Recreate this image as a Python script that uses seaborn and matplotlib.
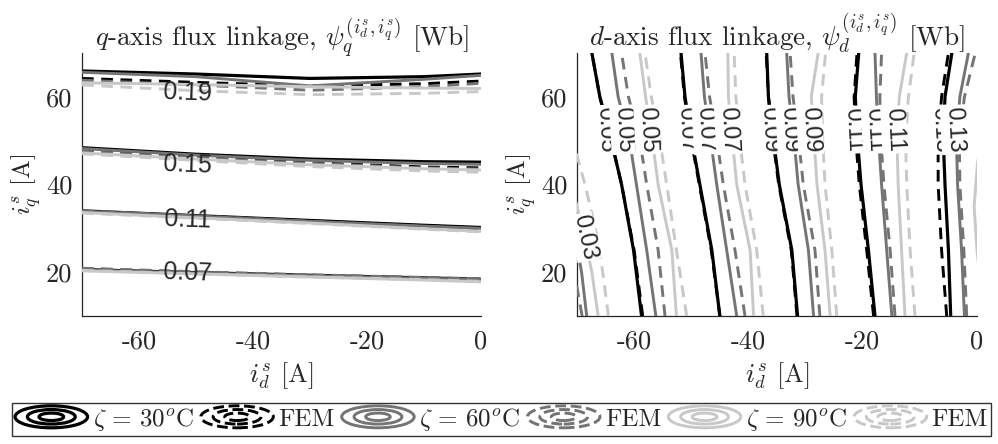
import numpy as np
import matplotlib
matplotlib.use("Agg")
import matplotlib.pyplot as plt
import seaborn as sns
import pandas as pd
from matplotlib.legend_handler import HandlerBase
from matplotlib.patches import Ellipse
from matplotlib.lines import Line2D

# ---------------- data ----------------
# Left panel: q-axis flux linkage contours -> iq [A] at the given id [A]
q_id = [-70, -50, -30, -10, 0]
q_levels = [0.07, 0.11, 0.15, 0.19]
q_30C = {0.19: [65.9, 65.2, 64.2, 64.6, 65.2],
         0.15: [48.4, 46.9, 45.8, 45.2, 45.1],
         0.11: [34.0, 32.9, 31.8, 30.7, 30.2],
         0.07: [20.6, 19.9, 19.3, 18.7, 18.4]}
q_30C_fem = {0.19: [64.2, 63.3, 62.5, 63.0, 63.6],
             0.15: [47.8, 46.3, 45.0, 44.0, 43.8],
             0.11: [33.9, 32.8, 31.7, 30.6, 30.1],
             0.07: [20.8, 20.0, 19.3, 18.7, 18.4]}
q_60C = {0.19: [65.6, 64.6, 62.5, 64.0, 64.9],
         0.15: [48.2, 46.7, 45.5, 44.8, 44.6],
         0.11: [33.9, 32.8, 31.6, 30.5, 30.0],
         0.07: [20.5, 19.8, 19.2, 18.6, 18.3]}
q_60C_fem = {0.19: [63.8, 62.7, 61.5, 62.3, 63.1],
             0.15: [47.6, 46.0, 44.8, 43.8, 43.5],
             0.11: [34.0, 32.8, 31.6, 30.4, 29.9],
             0.07: [20.9, 20.1, 19.4, 18.8, 18.5]}
q_90C = {0.19: [63.2, 62.8, 62.3, 62.0, 61.9],
         0.15: [47.2, 45.8, 44.5, 43.6, 43.3],
         0.11: [33.6, 32.4, 31.2, 29.9, 29.3],
         0.07: [20.3, 19.6, 18.9, 18.2, 17.8]}
q_90C_fem = {0.19: [62.7, 61.4, 60.5, 60.8, 61.2],
             0.15: [47.0, 45.5, 44.1, 43.1, 42.8],
             0.11: [33.5, 32.3, 31.1, 29.8, 29.2],
             0.07: [20.4, 19.6, 18.9, 18.3, 17.9]}
q_label_id = [-51.5, -51.5, -51.5, -51.5]
q_label_iq = [19.8, 31.9, 44.5, 60.9]

# Right panel: d-axis flux linkage contours -> id [A] at the given iq [A]
d_iq = [10, 25, 40, 50, 60, 70]
d_30C = {0.05: [-58.7, -60.1, -62.2, -64.0, -66.0, -67.4],
         0.07: [-45.0, -46.4, -48.5, -49.9, -51.1, -51.8],
         0.09: [-31.4, -32.4, -34.6, -35.6, -36.5, -36.8],
         0.11: [-17.85, -19.0, -20.3, -20.9, -21.3, -20.7],
         0.13: [-4.6, -5.0, -5.6, -5.9, -5.6, -4.4]}
d_30C_fem = {0.05: [-58.5, -60.0, -62.2, -64.0, -66.0, -67.4],
             0.07: [-45.0, -46.5, -48.6, -50.0, -51.2, -51.9],
             0.09: [-31.5, -32.5, -34.7, -35.7, -36.5, -36.9],
             0.11: [-18.1, -19.3, -20.6, -21.2, -21.5, -21.0],
             0.13: [-5.3, -6.2, -6.8, -6.8, -6.2, -5.0]}
d_60C = {0.05: [-56.2, -57.8, -59.6, -60.8, -62.8, -63.9],
         0.07: [-42.05, -43.8, -45.55, -46.6, -47.7, -48.3],
         0.09: [-28.6, -29.5, -31.3, -32.0, -32.9, -33.3],
         0.11: [-14.9, -15.8, -16.7, -17.2, -17.6, -17.85],
         0.13: [-2.2, -2.7, -3.4, -3.6, -3.0, -1.5]}
d_60C_fem = {0.05: [-54.6, -55.8, -57.8, -59.0, -61.0, -62.2],
             0.07: [-40.6, -42.35, -44.4, -45.5, -46.8, -47.6],
             0.09: [-27.5, -28.35, -30.4, -31.2, -32.2, -32.7],
             0.11: [-14.35, -15.2, -16.3, -16.8, -17.0, -16.7],
             0.13: [-1.8, -2.3, -3.0, -3.1, -2.2, -0.3]}
d_90C = {0.05: [-52.6, -53.4, -55.8, -56.8, -58.0, -59.0],
         0.07: [-39.1, -39.7, -42.05, -42.8, -43.5, -43.6],
         0.09: [-25.7, -26.6, -28.0, -28.5, -29.0, -27.8],
         0.11: [-12.6, -13.2, -13.8, -14.0, -13.6, -12.3]}
d_90C_fem = {0.05: [-50.8, -52.6, -54.3, -55.5, -57.0, -58.1],
             0.07: [-37.4, -38.55, -40.6, -41.5, -42.2, -42.5],
             0.09: [-24.55, -25.4, -26.6, -27.0, -27.2, -26.5],
             0.11: [-10.85, -11.7, -12.3, -12.5, -12.0, -11.0]}
# contour pieces that only touch the panel edge: (iq list, id list)
d_60C_edge = {0.03: ([10, 20, 28], [-68.3, -69.2, -70.3])}
d_60C_fem_edge = {0.03: ([10, 18], [-69.1, -70.2])}
d_90C_edge = {0.03: ([10, 20, 30, 36], [-66.3, -67.4, -69.0, -70.2]),
              0.13: ([10, 15, 25, 35, 45, 50], [1.2, 0.8, 0.0, -0.5, 0.1, 0.8])}
d_90C_fem_edge = {0.03: ([10, 20, 30, 40, 48], [-64.5, -65.5, -66.8, -68.6, -70.3])}
d_label_iq = 52.5

x_ticks = [-60, -40, -20, 0]
x_ticklabels = ["-60", "-40", "-20", "0"]
y_ticks = [20, 40, 60]
y_ticklabels = ["20", "40", "60"]
legend_labels = [r"$\zeta\,=\,30^o$C", "FEM", r"$\zeta\,=\,60^o$C", "FEM",
                 r"$\zeta\,=\,90^o$C", "FEM"]

# ---------------- style ----------------
sns.set_style("white")
plt.rcParams["font.family"] = "serif"
plt.rcParams["font.serif"] = ["cmr10", "DejaVu Serif"]
plt.rcParams["mathtext.fontset"] = "cm"
plt.rcParams["axes.unicode_minus"] = False
plt.rcParams["axes.formatter.use_mathtext"] = True

BLACK, GRAY, LIGHT = "#000000", "#747474", "#c8c8c8"
DASH = (0, (4.0, 2.6))
styles = [  # color, linestyle, lw
    (BLACK, "-", 2.3), (BLACK, DASH, 2.1),
    (GRAY, "-", 2.1), (GRAY, DASH, 2.1),
    (LIGHT, "-", 2.1), (LIGHT, DASH, 2.1),
]
LABEL_FONT = ["Liberation Sans", "DejaVu Sans"]

fig = plt.figure(figsize=(9.98, 4.44), dpi=100)
axL = fig.add_axes([82 / 998, 1 - 316 / 444, 399 / 998, 263 / 444])
axR = fig.add_axes([577 / 998, 1 - 316 / 444, 400 / 998, 263 / 444])

# ---------------- left panel ----------------
q_series = [q_30C, q_30C_fem, q_60C, q_60C_fem, q_90C, q_90C_fem]
for order, (ser, (c, ls, lw)) in enumerate(zip(q_series, styles)):
    for lev, vals in ser.items():
        df = pd.DataFrame({"id": q_id, "iq": vals})
        sns.lineplot(data=df, x="id", y="iq", ax=axL, color=c, lw=lw,
                     linestyle=ls, sort=False, estimator=None, zorder=2 + order)
for lev, lx, ly in zip(q_levels, q_label_id, q_label_iq):
    axL.text(lx, ly, f"{lev:.2f}", ha="center", va="center", fontsize=18,
             family=LABEL_FONT, zorder=20, rotation=-2)

# ---------------- right panel ----------------
d_series = [d_30C, d_30C_fem, d_60C, d_60C_fem, d_90C, d_90C_fem]
d_edges = [{}, {}, d_60C_edge, d_60C_fem_edge, d_90C_edge, d_90C_fem_edge]
for order, (ser, edge, (c, ls, lw)) in enumerate(zip(d_series, d_edges, styles)):
    for lev, vals in ser.items():
        df = pd.DataFrame({"iq": d_iq, "id": vals})
        sns.lineplot(data=df, x="id", y="iq", ax=axR, color=c, lw=lw,
                     linestyle=ls, sort=False, estimator=None, zorder=2 + order)
    for lev, (iqs, ids) in edge.items():
        df = pd.DataFrame({"iq": iqs, "id": ids})
        sns.lineplot(data=df, x="id", y="iq", ax=axR, color=c, lw=lw,
                     linestyle=ls, sort=False, estimator=None, zorder=2 + order)

# inline labels on the solid contours (one per temperature)
for ser in (d_30C, d_60C, d_90C):
    for lev, vals in ser.items():
        xi = float(np.interp(d_label_iq, d_iq, vals))
        axR.text(xi - 0.6, d_label_iq, f"{lev:.2f}", ha="center", va="center",
                 fontsize=17, family=LABEL_FONT, rotation=-87, zorder=20,
                 bbox=dict(boxstyle="square,pad=0.08", fc="white", ec="none"))
axR.text(-68.7, 28, "0.03", ha="center", va="center", fontsize=17,
         family=LABEL_FONT, rotation=-78, zorder=20,
         bbox=dict(boxstyle="square,pad=0.05", fc="white", ec="none"))

# ---------------- axes cosmetics ----------------
for ax in (axL, axR):
    ax.set_xlim(-70, 0)
    ax.set_ylim(10, 70)
    ax.set_xticks(x_ticks)
    ax.set_xticklabels(x_ticklabels)
    ax.set_yticks(y_ticks)
    ax.set_yticklabels(y_ticklabels)
    ax.tick_params(axis="x", pad=10)
    ax.tick_params(axis="y", pad=7)
    ax.tick_params(direction="in", length=4, width=0.8, labelsize=19,
                   color="#262626")
    for s in ("top", "right"):
        ax.spines[s].set_visible(False)
    for s in ("left", "bottom"):
        ax.spines[s].set_color("#262626")
        ax.spines[s].set_linewidth(0.9)
    ax.set_xlabel(r"$i^s_d$ [A]", fontsize=19, labelpad=5)
    ax.set_ylabel(r"$i^s_q$ [A]", fontsize=18, labelpad=2)
    ax.set_facecolor("white")

axL.set_title(r"$q$-axis flux linkage, $\psi_q^{(i^s_d,i^s_q)}$ [Wb]", fontsize=19.5, pad=5)
axR.set_title(r"$d$-axis flux linkage, $\psi_d^{(i^s_d,i^s_q)}$ [Wb]", fontsize=19.5, pad=5)


# ---------------- legend with contour icons ----------------
class ContourIcon(HandlerBase):
    def create_artists(self, legend, orig_handle, xdescent, ydescent, width,
                       height, fontsize, trans):
        cx = width / 2 - xdescent
        cy = height / 2 - ydescent
        arts = []
        for f in (1.0, 0.66, 0.34):
            e = Ellipse((cx, cy), width * f, height * 1.15 * f, fill=False,
                        edgecolor=orig_handle.get_color(),
                        linestyle=orig_handle.get_linestyle(),
                        linewidth=orig_handle.get_linewidth(), transform=trans)
            arts.append(e)
        return arts


handles = [Line2D([], [], color=c, linestyle=ls, lw=lw) for c, ls, lw in styles]
leg = fig.legend(handles, legend_labels, handler_map={Line2D: ContourIcon()},
                 loc="center", bbox_to_anchor=(501.5 / 998, 1 - 419 / 444), ncol=6,
                 frameon=True, fancybox=False, edgecolor="black", fontsize=18,
                 handlelength=2.9, handleheight=0.8, handletextpad=0.2,
                 columnspacing=0.28, borderpad=0.12, borderaxespad=0)
leg.get_frame().set_linewidth(1.0)

fig.savefig("out.png", dpi=100, facecolor="white")
